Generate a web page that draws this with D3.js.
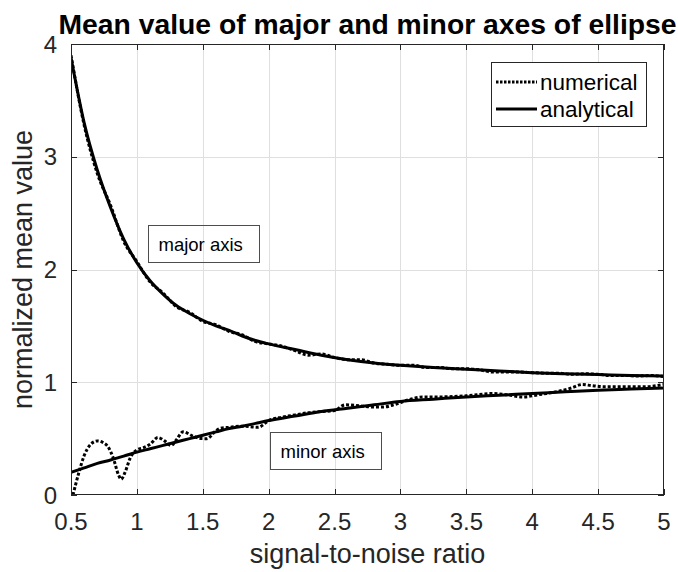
<!DOCTYPE html>
<html>
<head>
<meta charset="utf-8">
<script src="https://cdnjs.cloudflare.com/ajax/libs/d3/7.8.5/d3.min.js"></script>
<style>
    body { margin: 0; background: #fff; }
    svg { display: block; font-family: "Liberation Sans", Arial, sans-serif; }
</style>
</head>
<body>
<div id="chart"></div>
<script>
// signal-to-noise ratio grid for the analytical curves
var snrAnalytic = [0.5, 0.6, 0.7, 0.8, 0.9, 1.0, 1.1, 1.2, 1.3, 1.4, 1.5, 1.6, 1.7, 1.8, 1.9, 2.0,
    2.2, 2.4, 2.6, 2.8, 3.0, 3.25, 3.5, 3.75, 4.0, 4.25, 4.5, 4.75, 5.0];
var majorAnalytic = [3.88, 3.30, 2.88, 2.55, 2.27, 2.06, 1.90, 1.78, 1.68, 1.61, 1.55, 1.50, 1.46, 1.41, 1.37, 1.34,
    1.29, 1.24, 1.20, 1.17, 1.15, 1.13, 1.115, 1.10, 1.085, 1.075, 1.068, 1.06, 1.055];
var minorAnalytic = [0.20, 0.24, 0.28, 0.31, 0.345, 0.38, 0.41, 0.44, 0.47, 0.50, 0.53, 0.56, 0.59, 0.61, 0.635, 0.66,
    0.70, 0.74, 0.77, 0.80, 0.83, 0.85, 0.87, 0.885, 0.90, 0.915, 0.93, 0.94, 0.95];

// numerical (simulated) means
var snrMajorNum = [0.5, 0.6, 0.7, 0.8, 0.9, 1.0, 1.1, 1.2, 1.3, 1.4, 1.5, 1.6, 1.7, 1.8, 1.9, 2.0,
    2.1, 2.2, 2.3, 2.4, 2.5, 2.6, 2.7, 2.8, 2.9, 3.0, 3.1, 3.2, 3.3, 3.4, 3.5, 3.6, 3.7, 3.8, 3.9, 4.0,
    4.1, 4.2, 4.3, 4.4, 4.5, 4.6, 4.7, 4.8, 4.9, 5.0];
var majorNum = [3.90, 3.28, 2.85, 2.57, 2.25, 2.07, 1.89, 1.79, 1.67, 1.62, 1.54, 1.51, 1.45, 1.42, 1.36, 1.34,
    1.32, 1.28, 1.24, 1.25, 1.22, 1.20, 1.20, 1.17, 1.16, 1.15, 1.15, 1.13, 1.13, 1.12, 1.12, 1.11, 1.09, 1.09, 1.09, 1.085,
    1.08, 1.08, 1.07, 1.075, 1.07, 1.06, 1.06, 1.055, 1.06, 1.05];
var snrMinorNum = [0.515, 0.56, 0.6, 0.65, 0.7, 0.75, 0.78, 0.82, 0.86, 0.88, 0.91, 0.95, 1.0, 1.05, 1.1, 1.16,
    1.21, 1.26, 1.3, 1.35, 1.43, 1.5, 1.53, 1.6, 1.63, 1.7, 1.8, 1.92, 2.0, 2.1, 2.2, 2.3, 2.4, 2.5, 2.58,
    2.7, 2.8, 2.87, 2.95, 3.05, 3.17, 3.3, 3.5, 3.7, 3.8, 3.93, 4.05, 4.2, 4.3, 4.38, 4.45, 4.55, 4.7, 4.85, 5.0];
var minorNum = [0.0, 0.20, 0.35, 0.45, 0.48, 0.46, 0.43, 0.33, 0.18, 0.14, 0.20, 0.33, 0.40, 0.42, 0.45, 0.51,
    0.48, 0.44, 0.49, 0.56, 0.52, 0.50, 0.50, 0.57, 0.59, 0.60, 0.61, 0.60, 0.66, 0.69, 0.71, 0.73, 0.74, 0.75, 0.80,
    0.79, 0.78, 0.78, 0.80, 0.84, 0.87, 0.87, 0.88, 0.90, 0.89, 0.87, 0.89, 0.92, 0.95, 0.98, 0.97, 0.96, 0.96, 0.96, 0.98];

var xTicks = [0.5, 1, 1.5, 2, 2.5, 3, 3.5, 4, 4.5, 5];
var xTickLabels = ["0.5", "1", "1.5", "2", "2.5", "3", "3.5", "4", "4.5", "5"];
var yTicks = [0, 1, 2, 3, 4];
var yTickLabels = ["0", "1", "2", "3", "4"];

var legendLabels = ["numerical", "analytical"];
// text boxes, anchored at their top-left corner in data units
var annotations = [
    {text: "major axis", x: 1.084, y: 2.395},
    {text: "minor axis", x: 2.01, y: 0.559}
];

(function () {
    "use strict";
    var W = 678, H = 572;
    var left = 71, right = 664, top = 44, bottom = 495;
    var axisColor = "#262626";

    var svg = d3.select("#chart").append("svg").attr("width", W).attr("height", H);

    var x = d3.scaleLinear().domain([0.5, 5]).range([left, right]);
    var y = d3.scaleLinear().domain([0, 4]).range([bottom, top]);

    // grid
    svg.append("g").selectAll("line").data(xTicks.slice(1, -1)).enter().append("line")
        .attr("x1", function (d) { return Math.round(x(d)) + 0.5; })
        .attr("x2", function (d) { return Math.round(x(d)) + 0.5; })
        .attr("y1", top).attr("y2", bottom)
        .attr("stroke", "#dfdfdf").attr("stroke-width", 1);
    svg.append("g").selectAll("line").data(yTicks.slice(1, -1)).enter().append("line")
        .attr("y1", function (d) { return Math.round(y(d)) + 0.5; })
        .attr("y2", function (d) { return Math.round(y(d)) + 0.5; })
        .attr("x1", left).attr("x2", right)
        .attr("stroke", "#dfdfdf").attr("stroke-width", 1);

    svg.append("clipPath").attr("id", "plot-clip").append("rect")
        .attr("x", left).attr("y", top).attr("width", right - left).attr("height", bottom - top);

    var smooth = d3.line()
        .x(function (d) { return x(d[0]); })
        .y(function (d) { return y(d[1]); })
        .curve(d3.curveMonotoneX);

    var curves = svg.append("g").attr("clip-path", "url(#plot-clip)");

    function pairs(xs, ys) {
        return xs.map(function (v, i) { return [v, ys[i]]; });
    }

    // analytical (solid)
    [majorAnalytic, minorAnalytic].forEach(function (vals) {
        curves.append("path").attr("d", smooth(pairs(snrAnalytic, vals)))
            .attr("fill", "none").attr("stroke", "#000").attr("stroke-width", 3)
            .attr("stroke-linejoin", "round");
    });
    // numerical (dotted)
    curves.append("path").attr("d", smooth(pairs(snrMajorNum, majorNum)))
        .attr("fill", "none").attr("stroke", "#000").attr("stroke-width", 3)
        .attr("stroke-dasharray", "3,2");
    curves.append("path").attr("d", smooth(pairs(snrMinorNum, minorNum)))
        .attr("fill", "none").attr("stroke", "#000").attr("stroke-width", 3)
        .attr("stroke-dasharray", "3,2");

    // axes box and inward ticks
    svg.append("rect").attr("x", left + 0.5).attr("y", top + 0.5)
        .attr("width", right - left - 1).attr("height", bottom - top - 1)
        .attr("fill", "none").attr("stroke", axisColor).attr("stroke-width", 1);

    var tk = 6;
    var ticks = svg.append("g").attr("stroke", axisColor).attr("stroke-width", 1);
    xTicks.forEach(function (d) {
        var px = Math.round(x(d)) + 0.5;
        ticks.append("line").attr("x1", px).attr("x2", px).attr("y1", bottom).attr("y2", bottom - tk);
        ticks.append("line").attr("x1", px).attr("x2", px).attr("y1", top).attr("y2", top + tk);
    });
    yTicks.forEach(function (d) {
        var py = Math.round(y(d)) + 0.5;
        ticks.append("line").attr("y1", py).attr("y2", py).attr("x1", left).attr("x2", left + tk);
        ticks.append("line").attr("y1", py).attr("y2", py).attr("x1", right).attr("x2", right - tk);
    });

    // tick labels
    svg.append("g").selectAll("text").data(xTicks).enter().append("text")
        .attr("x", function (d) { return x(d); })
        .attr("y", 530)
        .attr("text-anchor", "middle")
        .attr("font-size", 24).attr("fill", axisColor)
        .text(function (d, i) { return xTickLabels[i]; });
    svg.append("g").selectAll("text").data(yTicks).enter().append("text")
        .attr("x", left - 14)
        .attr("y", function (d) { return y(d) + 8.5; })
        .attr("text-anchor", "end")
        .attr("font-size", 24).attr("fill", axisColor)
        .text(function (d, i) { return yTickLabels[i]; });

    // axis labels and title
    svg.append("text").attr("x", (left + right) / 2).attr("y", 563)
        .attr("text-anchor", "middle").attr("font-size", 27).attr("fill", axisColor)
        .text("signal-to-noise ratio");
    svg.append("text")
        .attr("transform", "translate(32," + ((top + bottom) / 2) + ") rotate(-90)")
        .attr("text-anchor", "middle").attr("font-size", 27).attr("fill", axisColor)
        .text("normalized mean value");
    svg.append("text").attr("x", (left + right) / 2).attr("y", 34)
        .attr("text-anchor", "middle").attr("font-size", 28.3).attr("font-weight", "bold")
        .attr("fill", "#000")
        .text("Mean value of major and minor axes of ellipse");

    // text boxes (no fill, grid shows through)
    annotations.forEach(function (a) {
        var bx = Math.round(x(a.x)) + 0.5, by = Math.round(y(a.y)) + 0.5;
        var g = svg.append("g");
        var t = g.append("text").attr("x", bx + 10).attr("y", by + 25)
            .attr("font-size", 18.5).attr("fill", "#000").text(a.text);
        var bb = t.node().getBBox();
        g.insert("rect", "text")
            .attr("x", bx).attr("y", by)
            .attr("width", Math.round(bb.width + 27)).attr("height", 37)
            .attr("fill", "none").attr("stroke", "#4d4d4d").attr("stroke-width", 1);
    });

    // legend
    var lg = svg.append("g");
    lg.append("rect").attr("x", 491.5).attr("y", 62.5).attr("width", 155).attr("height", 64)
        .attr("fill", "#fff").attr("stroke", axisColor).attr("stroke-width", 1);
    legendLabels.forEach(function (lbl, i) {
        var ly = 82 + i * 27;
        lg.append("line").attr("x1", 496).attr("x2", 537).attr("y1", ly).attr("y2", ly)
            .attr("stroke", "#000").attr("stroke-width", 3)
            .attr("stroke-dasharray", i === 0 ? "2.5,1.5" : null);
        lg.append("text").attr("x", 540).attr("y", ly + 8)
            .attr("font-size", 22.5).attr("fill", "#000").text(lbl);
    });
}());
</script>
</body>
</html>
